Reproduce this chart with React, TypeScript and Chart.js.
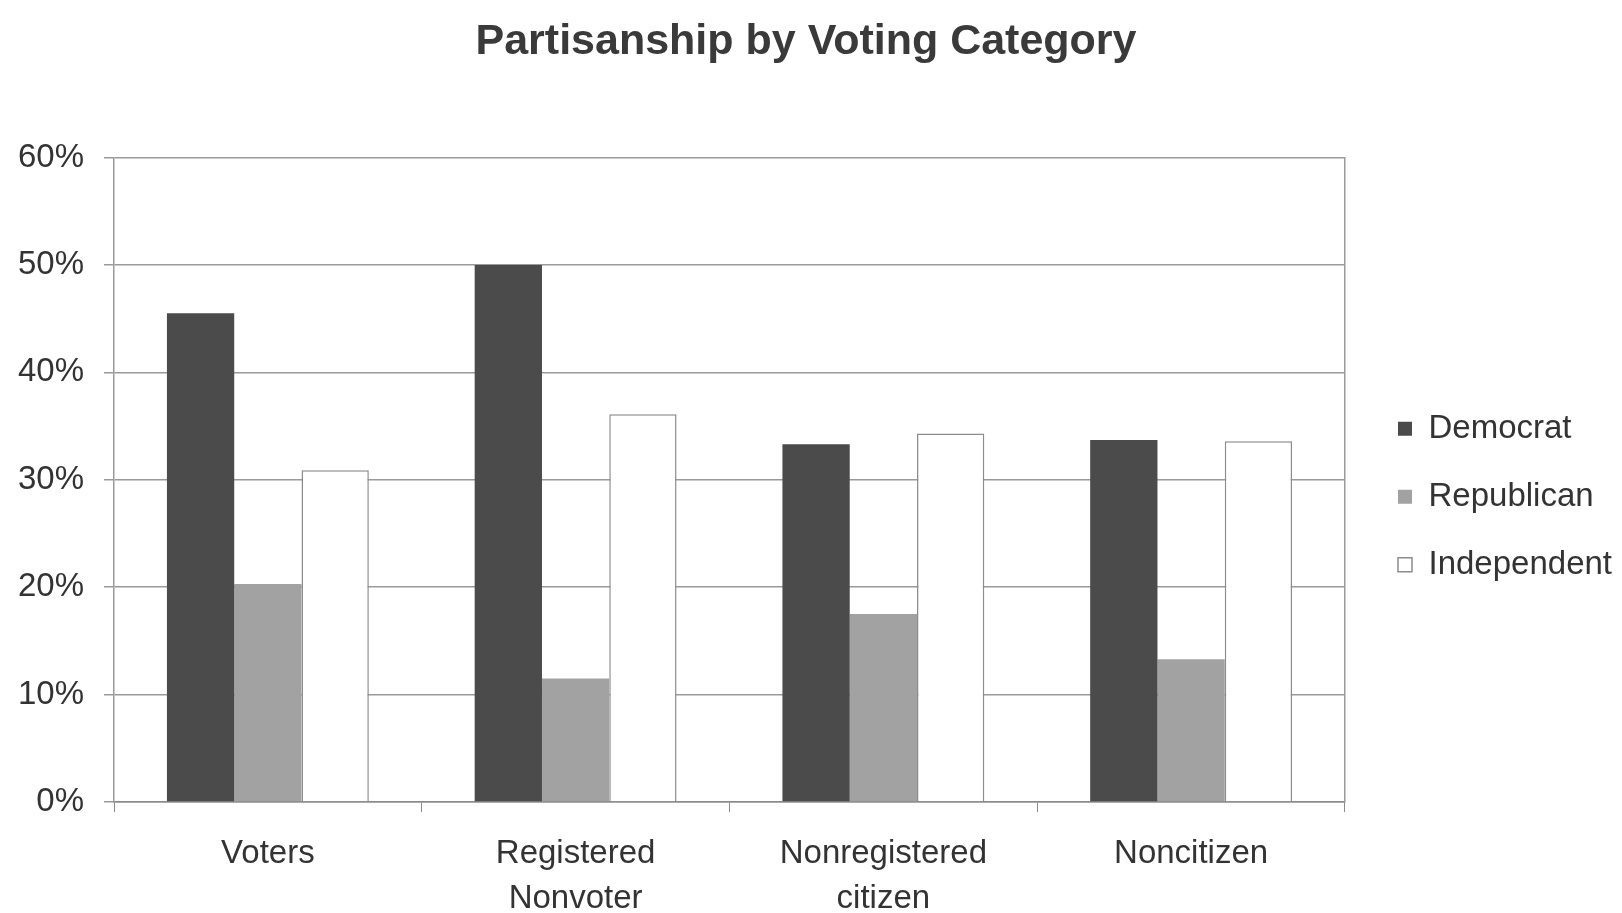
import React, { useEffect, useRef } from "react";
import { Chart, registerables } from "chart.js";

Chart.register(...registerables);

const categories = [["Voters"], ["Registered", "Nonvoter"], ["Nonregistered", "citizen"], ["Noncitizen"]];
const democrat = [45.5, 50.0, 33.3, 33.7];
const republican = [20.3, 11.5, 17.5, 13.3];
const independent = [30.9, 36.1, 34.3, 33.6];
const yTicks = [0, 10, 20, 30, 40, 50, 60];

const FONT = "'Liberation Sans', Arial, Helvetica, sans-serif";

const shiftTitle = {
  id: "shiftTitle",
  afterLayout(chart: any) {
    const t = chart.titleBlock;
    if (t) {
      t.left -= 14;
      t.right -= 14;
    }
  },
};

export default function App() {
  const ref = useRef<HTMLCanvasElement | null>(null);

  useEffect(() => {
    if (!ref.current) return;
    const chart = new Chart(ref.current, {
      type: "bar",
      data: {
        labels: categories,
        datasets: [
          {
            label: "Democrat",
            data: democrat,
            backgroundColor: "#4b4b4b",
            borderColor: "#4b4b4b",
            borderWidth: 0,
            categoryPercentage: 0.656,
            barPercentage: 1.0,
          },
          {
            label: "Republican",
            data: republican,
            backgroundColor: "#a2a2a2",
            borderColor: "#a2a2a2",
            borderWidth: 0,
            categoryPercentage: 0.656,
            barPercentage: 1.0,
          },
          {
            label: "Independent",
            data: independent,
            backgroundColor: "#ffffff",
            borderColor: "#8c8c8c",
            borderWidth: 1.5,
            categoryPercentage: 0.656,
            barPercentage: 1.0,
          },
        ],
      },
      plugins: [shiftTitle],
      options: {
        responsive: false,
        animation: false,
        layout: { padding: { left: 18, right: 0, top: 0, bottom: 0 } },
        plugins: {
          title: {
            display: true,
            text: "Partisanship by Voting Category",
            color: "#3a3a3a",
            font: { family: FONT, size: 43, weight: "bold", lineHeight: 1.2 },
            padding: { top: 16, bottom: 90 },
          },
          legend: {
            display: true,
            position: "right",
            fullSize: false,
            title: {
              display: true,
              text: " ",
              padding: 0,
              font: { family: FONT, size: 34, lineHeight: 1 },
            },
            labels: {
              color: "#333333",
              font: { family: FONT, size: 33 },
              boxWidth: 14,
              boxHeight: 14,
              padding: 35,
            },
          },
          tooltip: { enabled: false },
        },
        scales: {
          x: {
            afterFit: (scale: any) => {
              scale.height = 111;
            },
            grid: {
              display: true,
              drawOnChartArea: false,
              drawTicks: true,
              tickLength: 10,
              color: "#8a8a8a",
              offset: true,
            },
            border: { display: true, color: "#8a8a8a", width: 1.5 },
            ticks: {
              color: "#333333",
              font: { family: FONT, size: 33, lineHeight: 1.38 },
              padding: 19,
              maxRotation: 0,
              autoSkip: false,
            },
          },
          y: {
            min: 0,
            max: 60,
            afterBuildTicks: (scale: any) => {
              scale.ticks = yTicks.map((v) => ({ value: v }));
            },
            afterFit: (scale: any) => {
              scale.width = 96;
            },
            grid: {
              color: "#9a9a9a",
              lineWidth: 1.5,
              tickLength: 10,
              drawTicks: true,
            },
            border: { display: true, color: "#9a9a9a", width: 1.5 },
            ticks: {
              color: "#333333",
              font: { family: FONT, size: 33 },
              padding: 20,
              callback: (v: any) => v + "%",
            },
          },
          y2: {
            position: "right",
            display: true,
            min: 0,
            max: 60,
            grid: { display: false, drawOnChartArea: false, drawTicks: false },
            border: { display: true, color: "#9a9a9a", width: 1.5 },
            ticks: { display: false },
            afterFit: (scale: any) => {
              scale.width = 18;
            },
          },
        },
      },
    });
    return () => chart.destroy();
  }, []);

  return (
    <div style={{ position: "fixed", left: 0, top: 0, width: 1622, height: 913, background: "#ffffff" }}>
      <canvas ref={ref} width={1622} height={913} style={{ display: "block" }} />
    </div>
  );
}
